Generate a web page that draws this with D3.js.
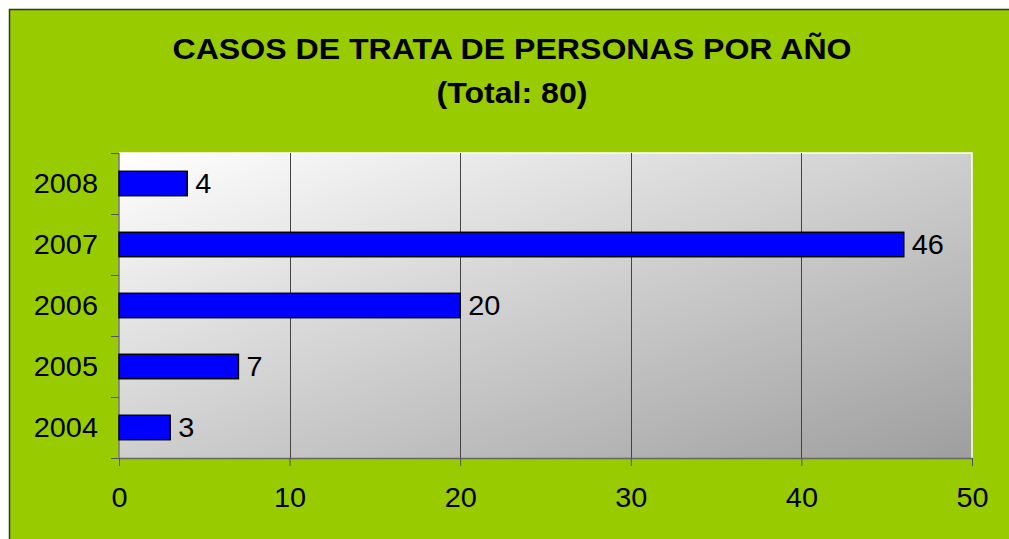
<!DOCTYPE html>
<html>
<head>
<meta charset="utf-8">
<script src="https://cdn.jsdelivr.net/npm/d3@7"></script>
<style>
  html, body { margin: 0; padding: 0; background: #fff; }
  svg { display: block; font-family: "Liberation Sans", Arial, sans-serif; }
</style>
</head>
<body>
<div id="chart"></div>
<script>
const years = ["2004", "2005", "2006", "2007", "2008"];
const cases = [3, 7, 20, 46, 4];
const xTicks = [0, 10, 20, 30, 40, 50];
const titleLines = ["CASOS DE TRATA DE PERSONAS POR AÑO", "(Total: 80)"];

const width = 1009;
const height = 539;
const plot = { left: 119, top: 153, right: 972, bottom: 458 };
// the original text is a bit wider than it is tall
const stretch = 1.07;
const titleStretch = 1.07;

const svg = d3
  .select("#chart")
  .append("svg")
  .attr("width", width)
  .attr("height", height);

const defs = svg.append("defs");
const grad = defs
  .append("linearGradient")
  .attr("id", "bg")
  .attr("x1", "0%")
  .attr("y1", "0%")
  .attr("x2", "100%")
  .attr("y2", "100%");
grad.append("stop").attr("offset", "0%").attr("stop-color", "#ffffff");
grad.append("stop").attr("offset", "100%").attr("stop-color", "#9e9e9e");

// outer chart area
svg
  .append("rect")
  .attr("x", 9.5)
  .attr("y", 9.5)
  .attr("width", width + 10)
  .attr("height", height + 10)
  .attr("fill", "#99cc00")
  .attr("stroke", "#333")
  .attr("stroke-width", 1.5);

svg
  .append("g")
  .selectAll("text")
  .data(titleLines)
  .join("text")
  .attr("transform", (d, i) => `translate(512,${59 + i * 44}) scale(${titleStretch},1)`)
  .attr("text-anchor", "middle")
  .attr("font-size", 30)
  .attr("font-weight", "bold")
  .attr("fill", "#000")
  .text((d) => d);

const x = d3.scaleLinear().domain([0, 50]).range([plot.left, plot.right]);
const y = d3
  .scaleBand()
  .domain(years.slice().reverse())
  .range([plot.top, plot.bottom])
  .paddingInner(0.6)
  .paddingOuter(0.3);

// plot background
svg
  .append("rect")
  .attr("x", plot.left)
  .attr("y", plot.top)
  .attr("width", plot.right - plot.left)
  .attr("height", plot.bottom - plot.top)
  .attr("fill", "url(#bg)");

// white border top and right
svg
  .append("path")
  .attr("d", `M${plot.left},${plot.top}H${plot.right}V${plot.bottom}`)
  .attr("fill", "none")
  .attr("stroke", "#fff")
  .attr("stroke-width", 1.5);

// gridlines
svg
  .append("g")
  .selectAll("line")
  .data(xTicks.filter((d) => d > 0 && d < 50))
  .join("line")
  .attr("x1", (d) => Math.round(x(d)) + 0.5)
  .attr("x2", (d) => Math.round(x(d)) + 0.5)
  .attr("y1", plot.top)
  .attr("y2", plot.bottom)
  .attr("stroke", "#444")
  .attr("stroke-width", 1);

// x axis
const xAxis = svg
  .append("g")
  .attr("transform", `translate(0,${plot.bottom})`)
  .call(
    d3
      .axisBottom(x)
      .tickValues(xTicks)
      .tickSize(8)
      .tickSizeOuter(0)
      .tickPadding(19)
  );
xAxis.select(".domain").attr("stroke", "#666").attr("stroke-width", 1.5);
xAxis.selectAll(".tick line").attr("stroke", "#555");
xAxis
  .selectAll(".tick text")
  .attr("font-size", 27)
  .attr("font-family", "Liberation Sans, Arial, sans-serif")
  .attr("fill", "#000")
  .attr("transform", `scale(${stretch},1)`)
  .attr("dy", "0.8em");

// y axis (ticks at band boundaries)
const boundaries = d3.range(years.length + 1).map(
  (i) => plot.top + (i * (plot.bottom - plot.top)) / years.length
);
svg
  .append("line")
  .attr("x1", plot.left)
  .attr("x2", plot.left)
  .attr("y1", plot.top)
  .attr("y2", plot.bottom)
  .attr("stroke", "#777")
  .attr("stroke-width", 1.5);
svg
  .append("g")
  .selectAll("line")
  .data(boundaries)
  .join("line")
  .attr("x1", plot.left - 8)
  .attr("x2", plot.left)
  .attr("y1", (d) => Math.round(d) + 0.5)
  .attr("y2", (d) => Math.round(d) + 0.5)
  .attr("stroke", "#555");

svg
  .append("g")
  .selectAll("text")
  .data(years)
  .join("text")
  .attr("transform", (d) => `translate(98,${y(d) + y.bandwidth() / 2}) scale(${stretch},1)`)
  .attr("dy", "0.36em")
  .attr("text-anchor", "end")
  .attr("font-size", 27)
  .attr("fill", "#000")
  .text((d) => d);

// bars
const bars = svg
  .append("g")
  .selectAll("g")
  .data(years.map((yr, i) => ({ year: yr, value: cases[i] })))
  .join("g");

bars
  .append("rect")
  .attr("x", x(0))
  .attr("y", (d) => y(d.year))
  .attr("width", (d) => x(d.value) - x(0))
  .attr("height", y.bandwidth())
  .attr("fill", "#0000ff")
  .attr("stroke", "#000")
  .attr("stroke-width", 1.5);

bars
  .append("text")
  .attr("transform", (d) => `translate(${x(d.value) + 8},${y(d.year) + y.bandwidth() / 2}) scale(${stretch},1)`)
  .attr("dy", "0.36em")
  .attr("font-size", 27)
  .attr("fill", "#000")
  .text((d) => d.value);
</script>
</body>
</html>
